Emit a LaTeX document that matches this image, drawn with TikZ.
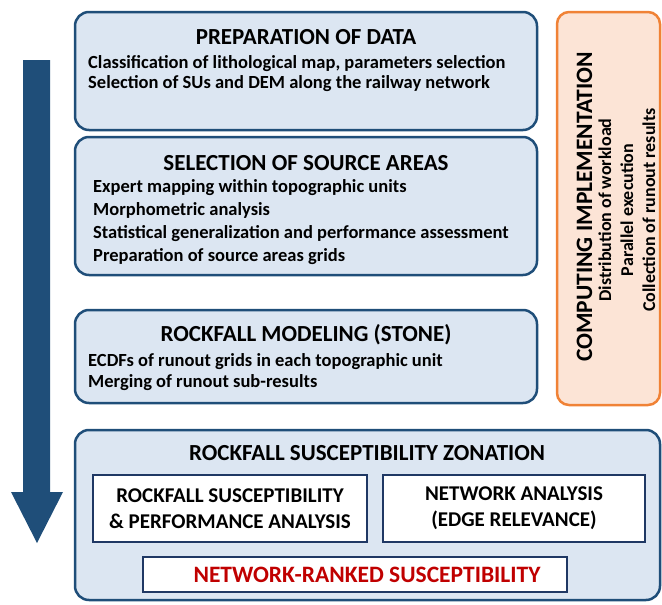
\documentclass[tikz,border=0pt]{standalone}
\usepackage{fontspec}
\setmainfont{Carlito}
\definecolor{stageblue}{HTML}{1F4E79}
\definecolor{stagefill}{HTML}{DCE6F2}
\definecolor{subblue}{HTML}{1F3864}
\definecolor{compline}{HTML}{F08236}
\definecolor{compfill}{HTML}{FCE4D6}
\definecolor{rankred}{HTML}{C00000}
\begin{document}
\begin{tikzpicture}
    [x=1pt, y=-1pt, font=\bfseries,
    stage/.style={draw=stageblue, fill=stagefill, line width=2.5pt, rounded corners=14pt, inner sep=0pt},
    compute/.style={draw=compline, fill=compfill, line width=2.5pt, rounded corners=12pt, inner sep=0pt},
    sub/.style={draw=subblue, fill=white, line width=2.5pt, inner sep=0pt, align=center},
    title/.style={font=\bfseries\fontsize{23}{26}\selectfont, anchor=base, inner sep=0pt},
    body/.style={font=\bfseries\fontsize{18.5}{22}\selectfont, anchor=base west, inner sep=0pt}]

    \useasboundingbox (0,0) rectangle (662,605);

    % Flow arrow on the left
    \fill[stageblue] (23,60) -- (50,60) -- (50,492) -- (63,492) -- (37,543)
        -- (11,492) -- (23,492) -- cycle;

    % Stage boxes
    \node[stage, minimum width=462, minimum height=118] (prep) at (306,71) {};
    \node[stage, minimum width=462, minimum height=138] (source) at (306,206) {};
    \node[stage, minimum width=462, minimum height=93] (model) at (306,356.5) {};
    \node[stage, minimum width=585, minimum height=170] (zone) at (367.5,515) {};
    \node[compute, minimum width=103, minimum height=393] (comp) at (608.5,208.5) {};

    % Preparation of data
    \node[title] (preptitle) at (306,45) {PREPARATION OF DATA};
    \foreach \txt [count=\i] in {{Classification of lithological map, parameters selection},
        {Selection of SUs and DEM along the railway network}}
        \node[body] (prep\i) at (88,48+20*\i) {\txt};

    % Selection of source areas
    \node[title] (sourcetitle) at (306,170) {SELECTION OF SOURCE AREAS};
    \foreach \txt [count=\i] in {Expert mapping within topographic units,
        Morphometric analysis,
        Statistical generalization and performance assessment,
        Preparation of source areas grids}
        \node[body] (source\i) at (93,169+23*\i) {\txt};

    % Rockfall modeling
    \node[title] (modeltitle) at (306,341) {ROCKFALL MODELING (STONE)};
    \foreach \txt [count=\i] in {ECDFs of runout grids in each topographic unit,
        Merging of runout sub-results}
        \node[body] (model\i) at (88,345+21*\i) {\txt};

    % Computing implementation
    \node[title, rotate=90, font=\bfseries\fontsize{23.5}{26}\selectfont]
        (comptitle) at (592,207) {COMPUTING IMPLEMENTATION};
    \foreach \txt [count=\i] in {Distribution of workload, Parallel execution,
        Collection of runout results}
        \node[title, rotate=90, font=\bfseries\fontsize{18}{22}\selectfont]
            (comp\i) at (589+22*\i,210) {\txt};

    % Susceptibility zonation
    \node[title] (zonetitle) at (367,460) {ROCKFALL SUSCEPTIBILITY ZONATION};
    \node[sub, minimum width=274, minimum height=67,
        font=\bfseries\fontsize{21}{26}\selectfont] (suscept) at (230,508.5)
        {ROCKFALL SUSCEPTIBILITY\\\& PERFORMANCE ANALYSIS};
    \node[sub, minimum width=262, minimum height=67,
        font=\bfseries\fontsize{21}{26}\selectfont] (network) at (514,508.5)
        {NETWORK ANALYSIS\\(EDGE RELEVANCE)};
    \node[sub, minimum width=424, minimum height=35] (rankedbox) at (355,574.5) {};
    \node[title, text=rankred, font=\bfseries\fontsize{23.5}{26}\selectfont]
        (ranked) at (367,582) {NETWORK-RANKED SUSCEPTIBILITY};

\end{tikzpicture}
\end{document}
